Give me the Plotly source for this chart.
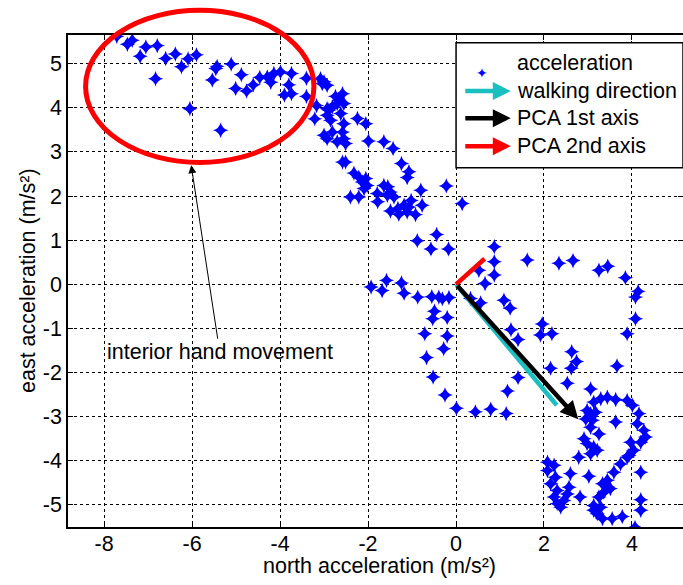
import plotly.graph_objects as go

# acceleration samples (m/s^2)
north = [
    -7.71, -7.47, -7.36, -7.18, -7.05, -6.79, -6.60, -6.38, -6.24, -6.09,
    -5.90, -6.83, -6.05, -5.35, -5.46, -5.43, -5.11, -5.54, -4.88, -5.01,
    -4.76, -4.61, -4.46, -4.29, -4.21, -4.14, -3.99, -3.74, -3.80, -3.90,
    -3.74, -3.40, -3.40, -3.17, -3.21, -3.08, -3.00, -2.93, -3.04, -2.93,
    -3.00, -2.74, -2.66, -2.55, -2.58, -2.70, -2.81, -2.89, -2.93, -2.85,
    -2.62, -2.55, -2.24, -2.05, -2.93, -2.81, -2.70, -2.55, -2.51, -2.58,
    -1.99, -1.64, -1.43, -2.58, -2.51, -2.32, -2.21, -2.13, -2.05, -2.02,
    -2.09, -2.40, -2.21, -1.79, -1.78, -1.64, -1.55, -1.56, -1.41, -1.49,
    -1.49, -1.32, -1.30, -1.18, -1.07, -1.02, -1.11, -0.92, -1.24, -1.07,
    -1.11, -0.80, -0.77, -0.22, 0.14, -0.88, -0.44, -0.57, -0.17,
    -1.93, -1.68, -1.58, -1.24, -1.18, -0.87, -0.55, -0.39, -0.31, -0.16,
    -0.49, -0.53, -0.20, -0.71, -0.20, -0.28, -0.67, -0.52, -0.25, 0.01,
    0.44, 0.79, 1.14, 1.17, 1.41,
    0.87, 0.87, 0.87, 0.52, 0.66, 1.62, 2.34, 2.66, 3.25, 3.45,
    3.85, 4.14, 4.08, 4.08, 3.89, 0.33, 0.56, 1.09, 1.23, 1.25,
    1.41, 1.96, 1.92, 2.18, 2.63, 2.74, 2.62, 2.15, 2.53, 3.66, 3.06,
    3.13, 3.29, 3.44, 3.63, 3.89, 4.01, 4.16, 4.12, 4.27, 4.31,
    4.20, 3.97, 4.04, 3.93, 3.74, 3.59, 3.44, 3.51, 3.36, 3.25,
    3.13, 3.21, 3.33, 3.55, 3.78,
    2.98, 3.06, 2.95, 3.10, 3.17, 3.06, 3.25, 2.91, 2.98, 3.13,
    3.21, 3.06, 3.63, 2.79,
    2.08, 2.08, 2.23, 2.15, 2.26, 2.30, 2.23, 2.30, 2.38, 2.45,
    2.57, 2.53, 2.60, 2.82, 3.02, 3.33,
    4.20, 4.20, 4.20, 4.07, 3.29, 3.13, 3.44, 3.89,
]
east = [
    5.62, 5.44, 5.53, 5.17, 5.38, 5.41, 5.12, 5.22, 4.93, 5.11,
    5.20, 4.66, 3.98, 3.49, 4.89, 4.94, 4.99, 4.63, 4.75, 4.44,
    4.38, 4.52, 4.69, 4.70, 4.58, 4.78, 4.81, 4.78, 4.52, 4.29,
    4.32, 4.67, 4.26, 4.05, 3.75, 4.66, 4.59, 4.51, 4.55, 3.98,
    3.38, 4.26, 4.17, 4.10, 4.32, 4.10, 4.02, 3.95, 3.83, 3.72,
    3.87, 3.64, 3.76, 3.64, 3.30, 3.45, 3.23, 3.30, 3.19, 3.45,
    3.25, 3.23, 3.08, 2.77, 2.77, 2.52, 2.43, 2.32, 2.40, 2.24,
    2.17, 1.98, 1.98, 2.06, 1.87, 2.24, 2.21, 2.02, 1.98, 2.09,
    1.66, 1.72, 1.59, 1.79, 1.75, 1.90, 1.64, 1.58, 2.74, 2.55,
    2.42, 2.13, 1.79, 2.23, 1.83, 0.99, 1.13, 0.80, 0.80,
    -0.06, -0.14, 0.09, 0.03, -0.20, -0.29, -0.28, -0.29, -0.33, -0.30,
    -0.61, -0.78, -0.75, -1.12, -1.17, -1.46, -1.66, -2.10, -2.51, -2.81,
    -2.89, -2.83, -2.93, -2.42, -2.11,
    0.85, 0.51, 0.21, 0.32, 0.02, 0.55, 0.48, 0.54, 0.32, 0.41,
    0.15, -0.16, -0.29, -0.78, -1.12, -0.32, -0.42, -0.36, -0.54, -1.03,
    -1.25, -0.90, -1.15, -1.12, -1.53, -1.75, -1.90, -1.90, -2.24, -1.85, -2.37,
    -2.67, -2.59, -2.56, -2.61, -2.63, -2.74, -2.93, -3.16, -3.31, -3.46,
    -3.58, -3.58, -3.76, -3.88, -4.07, -4.26, -4.44, -4.63, -4.71, -4.82,
    -5.01, -5.20, -5.31, -5.31, -5.26,
    -2.86, -2.93, -3.05, -3.08, -2.90, -3.24, -3.39, -3.50, -3.61, -3.69,
    -3.76, -3.84, -3.12, -3.92,
    -4.03, -4.22, -4.10, -4.52, -4.37, -4.67, -4.82, -4.97, -5.05, -4.90,
    -4.60, -4.75, -4.29, -4.82, -4.35, -4.52,
    -4.26, -4.88, -5.12, -5.51, -5.05, -5.12, -4.59, -3.92,
]

# direction vectors drawn from the origin
WALK_DIR = [2.29, -2.74]
PCA_1ST = [2.78, -3.06]
PCA_2ND = [0.65, 0.58]

X_TICKS = [-8, -6, -4, -2, 0, 2, 4]
Y_TICKS = [-5, -4, -3, -2, -1, 0, 1, 2, 3, 4, 5]
X_RANGE = [-8.82, 5.16]
Y_RANGE = [-5.50, 5.65]

# hand drawn ellipse + callout, in data units
ELLIPSE_X = [-8.42, -3.23]
ELLIPSE_Y = [2.76, 6.21]
CALLOUT_TIP = [-6.02, 2.70]
CALLOUT_TEXT = [-5.37, -1.54]
CALLOUT_LABEL = "interior hand movement"

X_TITLE = "north acceleration (m/s²)"
Y_TITLE = "east acceleration (m/s²)"
LEGEND_LABELS = ["acceleration", "walking direction", "PCA 1st axis", "PCA 2nd axis"]

FONT = "Liberation Sans, Arial, sans-serif"
FS = 21.5
BLUE = "#0000ff"
CYAN = "#1abfbf"
RED = "#ff0000"
LEGEND_COLORS = [BLUE, CYAN, "black", RED]


def xp(v):
    return (v - X_RANGE[0]) / (X_RANGE[1] - X_RANGE[0])


def yp(v):
    return (v - Y_RANGE[0]) / (Y_RANGE[1] - Y_RANGE[0])


fig = go.Figure()

fig.add_trace(go.Scatter(
    x=north, y=east, mode="markers",
    marker=dict(symbol="star-diamond", size=11, color=BLUE, line=dict(width=0)),
    showlegend=False, hoverinfo="skip",
))
fig.add_trace(go.Scatter(
    x=[0, WALK_DIR[0]], y=[0, WALK_DIR[1]], mode="lines",
    line=dict(color=CYAN, width=4.5), showlegend=False,
))
fig.add_trace(go.Scatter(
    x=[0, PCA_2ND[0]], y=[0, PCA_2ND[1]], mode="lines",
    line=dict(color=RED, width=4.5), showlegend=False,
))
fig.add_annotation(
    x=PCA_1ST[0], y=PCA_1ST[1], ax=0, ay=0, axref="x", ayref="y",
    text="", showarrow=True, arrowhead=2, arrowsize=0.8, arrowwidth=4.5,
    arrowcolor="black", standoff=0,
)

# red ellipse (goes beyond the top of the axes, so paper coords)
fig.add_shape(
    type="circle", xref="paper", yref="paper",
    x0=xp(ELLIPSE_X[0]), x1=xp(ELLIPSE_X[1]),
    y0=yp(ELLIPSE_Y[0]), y1=yp(ELLIPSE_Y[1]),
    line=dict(color=RED, width=5),
)

fig.add_annotation(
    x=CALLOUT_TIP[0], y=CALLOUT_TIP[1], ax=CALLOUT_TEXT[0], ay=CALLOUT_TEXT[1],
    axref="x", ayref="y", text=CALLOUT_LABEL, showarrow=True,
    arrowhead=2, arrowsize=1.6, arrowwidth=1, arrowcolor="black", standoff=0,
    font=dict(family=FONT, size=FS, color="black"),
)

# legend box drawn by hand to get the arrow samples
LEG_X0, LEG_X1, LEG_Y0, LEG_Y1 = 0.631, 1.0, 0.730, 0.984
ROW_Y = [0.943, 0.886, 0.831, 0.774]
fig.add_shape(
    type="rect", xref="paper", yref="paper",
    x0=LEG_X0, x1=LEG_X1, y0=LEG_Y0, y1=LEG_Y1,
    line=dict(color="black", width=1.5), fillcolor="white",
)
for i, (lab, col) in enumerate(zip(LEGEND_LABELS, LEGEND_COLORS)):
    if i == 0:
        fig.add_annotation(
            x=0.686, y=ROW_Y[i], xref="paper", yref="paper", text="✦",
            showarrow=False, font=dict(family="DejaVu Sans", size=14, color=col),
        )
    else:
        fig.add_annotation(
            x=0.72, y=ROW_Y[i], xref="paper", yref="paper", ax=-47, ay=0,
            text="", showarrow=True, arrowhead=2, arrowsize=0.8, arrowwidth=4.5,
            arrowcolor=col, standoff=0,
        )
    fig.add_annotation(
        x=0.7268, y=ROW_Y[i], xref="paper", yref="paper", text=lab,
        showarrow=False, xanchor="left", yanchor="middle",
        font=dict(family=FONT, size=FS, color="black"),
    )

# axis titles as annotations so they sit exactly
fig.add_annotation(
    x=0.5065, y=0, xref="paper", yref="paper", yshift=-39, text=X_TITLE,
    showarrow=False, xanchor="center", yanchor="middle",
    font=dict(family=FONT, size=FS, color="black"),
)
fig.add_annotation(
    x=0, y=0.5, xref="paper", yref="paper", xshift=-40, text=Y_TITLE,
    textangle=-90, showarrow=False, xanchor="center", yanchor="middle",
    font=dict(family=FONT, size=FS, color="black"),
)

axis_common = dict(
    ticks="inside", ticklen=5, tickcolor="black", tickwidth=1,
    showline=True, linecolor="black", linewidth=1.5, mirror="ticks",
    showgrid=True, gridcolor="black", griddash="dot", gridwidth=1,
    zeroline=False, automargin=False,
    tickfont=dict(family=FONT, size=FS, color="black"),
)
fig.update_xaxes(
    range=X_RANGE, tickvals=X_TICKS, ticktext=[str(v) for v in X_TICKS],
    ticklabelstandoff=-4, **axis_common,
)
fig.update_yaxes(
    range=Y_RANGE, tickvals=Y_TICKS, ticktext=[str(v) for v in Y_TICKS],
    ticklabelstandoff=0, **axis_common,
)

fig.update_layout(
    width=683, height=585,
    margin=dict(l=68, r=0, t=35, b=58),
    plot_bgcolor="white", paper_bgcolor="white",
    showlegend=False,
)

# drop the default 8px page margin so the figure fills the window
fig.write_html(
    "out.html",
    config={"displayModeBar": False},
    post_script="document.body.style.margin='0px';document.body.style.overflow='hidden';",
)
